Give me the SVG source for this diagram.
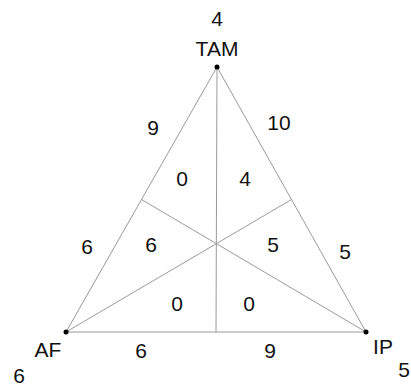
<svg xmlns="http://www.w3.org/2000/svg" width="411" height="387" viewBox="0 0 411 387">
<style>
.ln{stroke:#9a9a9a;stroke-width:1;fill:none}
.t{font-family:"Liberation Sans",Arial,sans-serif;font-size:21px;fill:#111;text-anchor:middle}
.dot{fill:#000}
</style>
<rect width="411" height="387" fill="#fff"/>
<g id="connectors">
<polygon class="ln" points="217,67 66,332 366,332"/>
<line class="ln" x1="217" y1="67" x2="216" y2="332"/>
<line class="ln" x1="66" y1="332" x2="291.5" y2="199.5"/>
<line class="ln" x1="366" y1="332" x2="141.5" y2="199.5"/>
</g>
<g id="TAM"><circle class="dot" cx="217" cy="67" r="2.5"/><text class="t" x="217" y="26">4</text><text class="t" x="217" y="56">TAM</text></g>
<g id="AF"><circle class="dot" cx="66" cy="332" r="2.5"/><text class="t" x="48" y="357">AF</text><text class="t" x="19" y="383">6</text></g>
<g id="IP"><circle class="dot" cx="366" cy="332" r="2.5"/><text class="t" x="383" y="354">IP</text><text class="t" x="404" y="377">5</text></g>
<g id="labels">
<text class="t" x="153" y="135">9</text>
<text class="t" x="279" y="130">10</text>
<text class="t" x="182" y="186">0</text>
<text class="t" x="245" y="186">4</text>
<text class="t" x="87" y="254">6</text>
<text class="t" x="151" y="252">6</text>
<text class="t" x="273" y="252">5</text>
<text class="t" x="345" y="259">5</text>
<text class="t" x="177" y="311">0</text>
<text class="t" x="249" y="311">0</text>
<text class="t" x="141" y="358">6</text>
<text class="t" x="270" y="358">9</text>
</g>
</svg>
